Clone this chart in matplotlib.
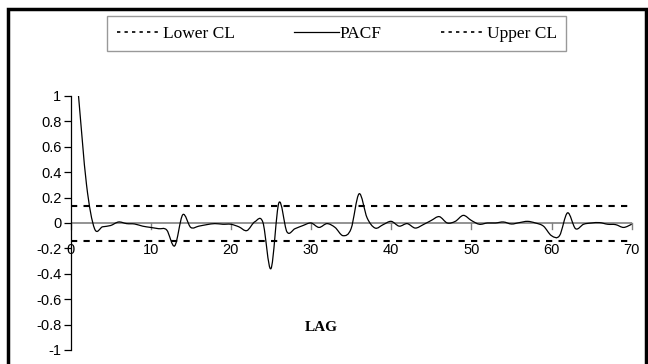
import matplotlib.pyplot as plt
import numpy as np
from matplotlib.path import Path
from matplotlib.patches import PathPatch, Rectangle
from matplotlib.lines import Line2D

# Dados
lags = list(range(1, 71))
pacf = [1.0, 0.30, -0.045, -0.03, -0.02, 0.008, -0.005, -0.008, -0.025, -0.035,
        -0.045, -0.055, -0.18, 0.065, -0.035, -0.025, -0.013, -0.005, -0.01, -0.01,
        -0.03, -0.06, 0.01, 0.005, -0.36, 0.16, -0.07, -0.045, -0.02, 0.0,
        -0.035, -0.005, -0.035, -0.10, -0.045, 0.23, 0.04, -0.04, -0.013, 0.013,
        -0.025, -0.005, -0.04, -0.013, 0.02, 0.05, 0.0, 0.013, 0.06, 0.02,
        -0.01, 0.0, 0.0, 0.008, -0.008, 0.003, 0.013, 0.0, -0.025, -0.10,
        -0.10, 0.08, -0.045, -0.01, 0.0, 0.003, -0.01, -0.013, -0.035, -0.01]
cl_lags = [0, 69.6]
upper_cl = [0.13, 0.13]
lower_cl = [-0.14, -0.14]
xticks = [0, 10, 20, 30, 40, 50, 60, 70]
yticks = [-1, -0.8, -0.6, -0.4, -0.2, 0, 0.2, 0.4, 0.6, 0.8, 1]
ytick_labels = ['-1', '-0.8', '-0.6', '-0.4', '-0.2', '0', '0.2', '0.4', '0.6', '0.8', '1']


def linha_suave(x, y):
    """Curva suavizada (estilo Excel) com bezier cubica pelos pontos."""
    x = np.asarray(x, float)
    y = np.asarray(y, float)
    n = len(x)
    verts = [(x[0], y[0])]
    codes = [Path.MOVETO]
    for i in range(n - 1):
        x0, y0 = (x[i - 1], y[i - 1]) if i > 0 else (x[i], y[i])
        x3, y3 = (x[i + 2], y[i + 2]) if i + 2 < n else (x[i + 1], y[i + 1])
        c1 = (x[i] + (x[i + 1] - x0) / 6, y[i] + (y[i + 1] - y0) / 6)
        c2 = (x[i + 1] - (x3 - x[i]) / 6, y[i + 1] - (y3 - y[i]) / 6)
        verts += [c1, c2, (x[i + 1], y[i + 1])]
        codes += [Path.CURVE4] * 3
    return Path(verts, codes)


fig = plt.figure(figsize=(6.48, 3.64), dpi=100)
ax = fig.add_axes([0.1088, 0.0385, 0.866, 0.6978])

# eixo zero (cinza) e limites de confianca
ax.axhline(0, color='#808080', lw=1.2, zorder=1)
ax.plot(cl_lags, lower_cl, color='black', ls=(0, (3, 3)), lw=1.5, zorder=2)
ax.plot(cl_lags, upper_cl, color='black', ls=(0, (3, 3)), lw=1.5, zorder=2)
ax.add_patch(PathPatch(linha_suave(lags, pacf), fc='none', ec='black', lw=0.9, zorder=3))

ax.set_xlim(0, 70)
ax.set_ylim(-1, 1)

for lado in ['top', 'right', 'bottom']:
    ax.spines[lado].set_visible(False)
ax.spines['left'].set_linewidth(0.9)

ax.set_yticks(yticks)
ax.set_yticklabels(ytick_labels, fontsize=10.5, family='Liberation Sans')
ax.tick_params(axis='y', direction='out', length=5, width=0.9, pad=1.5)

# ticks do eixo x desenhados sobre a linha do zero
ax.set_xticks([])
for t in xticks:
    ax.plot([t, t], [0, -0.045], color='#808080', lw=1.0, zorder=1, clip_on=False)
    ax.text(t, -0.215, str(t), ha='center', va='center', fontsize=10.5,
            family='Liberation Sans')

ax.text(31.3, -0.82, 'LAG', ha='center', va='center', fontsize=11,
        fontweight='bold', family='Liberation Serif')

# legenda
handles = [Line2D([], [], color='black', ls=(0, (2, 2.5)), lw=1.2),
           Line2D([], [], color='black', lw=0.9),
           Line2D([], [], color='black', ls=(0, (2, 2.5)), lw=1.2)]
leg = fig.legend(handles, ['Lower CL', 'PACF', 'Upper CL'], loc='center',
                 bbox_to_anchor=(0.52, 0.907), ncol=3, frameon=True, fancybox=False,
                 edgecolor='#808080', handlelength=2.6, handletextpad=0.05,
                 columnspacing=3.4, borderpad=0.55,
                 prop={'family': 'Liberation Serif', 'size': 12.5})
leg.get_frame().set_linewidth(1.0)

# moldura preta da figura
fig.patches.append(Rectangle((8 / 648, -0.05), 638 / 648, 1.05 - 9 / 364,
                             transform=fig.transFigure, fill=False, ec='black', lw=2.5))

fig.savefig('out.png', dpi=100)
